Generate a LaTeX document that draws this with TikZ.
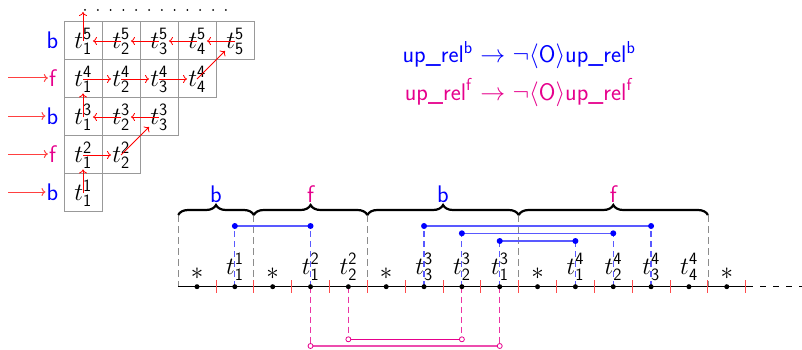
\documentclass[tikz,border=0pt]{standalone}
\usetikzlibrary{decorations.pathreplacing,arrows.meta}
\renewcommand{\familydefault}{\sfdefault}
\definecolor{bcol}{RGB}{0,0,255}
\definecolor{fcol}{RGB}{230,0,140}
\newcommand{\tl}[2]{$t^{\mathsf{#2}}_{\mathsf{#1}}$}
\begin{document}
\begin{tikzpicture}[x=1pt,y=-1pt,font=\fontsize{24}{28}\selectfont,
  gridline/.style={draw=black!40,line width=0.8pt},
  rarr/.style={red,line width=0.8pt,-{To[length=4pt,width=8pt]}},
  larr/.style={red!75,line width=1pt,-{To[length=4pt,width=8pt]}},
  tick/.style={red!70,line width=1pt},
  gdash/.style={black!45,line width=0.7pt,dash pattern=on 7pt off 4pt},
  bdash/.style={bcol!65,line width=1.2pt,dash pattern=on 6pt off 4pt},
  bline/.style={bcol!65,line width=1.3pt},
  fdash/.style={fcol!80,line width=1pt,dash pattern=on 6pt off 4pt},
  fline/.style={fcol!70,line width=1.2pt},
  bracestyle/.style={decorate,decoration={brace,amplitude=10pt},line width=2.2pt},
  lab/.style={inner sep=1pt}]
\useasboundingbox (0,0) rectangle (802,350);
% grid
\foreach \r in {1,...,5}{
  \foreach \c in {1,...,\r}{
    \draw[gridline] ({64+38*(\c-1)},{21+38*(5-\r)}) rectangle ++(38,38);
    \node[lab] (t\c\r) at ({83+38*(\c-1)},{41+38*(5-\r)}) {\tl{\c}{\r}};
  }
}
% dots above grid
\foreach \i in {0,...,11} \fill ({85+12.8*\i},10) circle (1);
\coordinate (top) at (83,12);
% grid arrows
\draw[rarr] (t11.center) -- (t12);
\draw[rarr] (t12.center) -- (t22);
\draw[rarr] (t22.center) -- (t33);
\draw[rarr] (t33.center) -- (t23);
\draw[rarr] (t23.center) -- (t13);
\draw[rarr] (t13.center) -- (t14);
\draw[rarr] (t14.center) -- (t24);
\draw[rarr] (t24.center) -- (t34);
\draw[rarr] (t34.center) -- (t44);
\draw[rarr] (t44.center) -- (t55);
\draw[rarr] (t55.center) -- (t45);
\draw[rarr] (t45.center) -- (t35);
\draw[rarr] (t35.center) -- (t25);
\draw[rarr] (t25.center) -- (t15);
\draw[rarr] (t15.center) -- (top);
% left labels
\node[bcol,lab] (L5) at (52.5,40) {b};
\node[fcol,lab] (L4) at (52.5,78) {f};
\node[bcol,lab] (L3) at (52.5,116) {b};
\node[fcol,lab] (L2) at (52.5,154) {f};
\node[bcol,lab] (L1) at (52.5,192) {b};
\coordinate (A4) at (8,78);
\coordinate (A3) at (8,116);
\coordinate (A2) at (8,154);
\coordinate (A1) at (8,192);
\draw[larr] (A4) -- (L4);
\draw[larr] (A3) -- (L3);
\draw[larr] (A2) -- (L2);
\draw[larr] (A1) -- (L1);
% formulas
\node[bcol,anchor=base] (fb) at (519,63) {up\_rel$^{\mathsf{b}}$ $\rightarrow$ $\neg\langle$O$\rangle$up\_rel$^{\mathsf{b}}$};
\node[fcol,anchor=base] (ff) at (519,100) {up\_rel$^{\mathsf{f}}$ $\rightarrow$ $\neg\langle$O$\rangle$up\_rel$^{\mathsf{f}}$};
% timeline
\def\sp{37.84}
\foreach \k in {0,...,14} \coordinate (d\k) at ({197+\sp*\k},286.7);
\coordinate (Ls) at (178.2,286.7);
\coordinate (Le) at (747,286.7);
\coordinate (Lr) at (802,286.7);
% braces boundaries
\coordinate (g0) at (178.2,215);
\coordinate (g1) at (253.8,215);
\coordinate (g2) at (367.4,215);
\coordinate (g3) at (518.7,215);
\coordinate (g4) at (707.9,215);
\foreach \g in {0,...,4} \draw[gdash] (g\g) -- (g\g |- Ls);
\draw[bracestyle] (g0) -- (g1);
\draw[bracestyle] (g1) -- (g2);
\draw[bracestyle] (g2) -- (g3);
\draw[bracestyle] (g3) -- (g4);
\node[bcol,lab] (br1) at (216,194) {b};
\node[fcol,lab] (br2) at (310.6,194) {f};
\node[bcol,lab] (br3) at (443,194) {b};
\node[fcol,lab] (br4) at (613.3,194) {f};
% blue links
\foreach \a/\h in {1/226,3/226,6/226,12/226,7/233.3,11/233.3,8/241,10/241}
  \coordinate (u\a) at ({197+\sp*\a},\h);
\foreach \a in {1,3,6,12,7,11,8,10} \draw[bdash] (d\a) -- (u\a);
\draw[bline] (u1) -- (u3);
\draw[bline] (u6) -- (u12);
\draw[bline] (u7) -- (u11);
\draw[bline] (u8) -- (u10);
\foreach \a in {1,3,6,12,7,11,8,10} \fill[bcol] (u\a) circle (3);
% magenta links
\foreach \a/\h in {3/346,8/346,4/339.3,7/339.3}
  \coordinate (m\a) at ({197+\sp*\a},\h);
\foreach \a in {3,8,4,7} \draw[fdash] (d\a) -- (m\a);
\draw[fline] (m3) -- (m8);
\draw[fcol,line width=0.8pt] (m4) -- (m7);
\foreach \a in {3,8,4,7} \draw[fcol,line width=0.8pt,fill=white] (m\a) circle (2.5);
% main line
\draw[line width=0.9pt] (Ls) -- (Le);
\draw[line width=0.9pt,dash pattern=on 6pt off 7pt] (Le) -- (Lr);
\foreach \k in {0,...,14} \draw[tick] ({216+\sp*\k},280) -- ++(0,13);
\foreach \k in {0,...,14} \fill (d\k) circle (2.5);
% labels on timeline
\foreach \k in {0,2,5,9,14} \node[lab,anchor=base] (s\k) at ({197+\sp*\k},279) {$*$};
\node[lab,anchor=base] (p1) at (d1 |- 0,274) {\tl{1}{1}};
\node[lab,anchor=base] (p3) at (d3 |- 0,274) {\tl{1}{2}};
\node[lab,anchor=base] (p4) at (d4 |- 0,274) {\tl{2}{2}};
\node[lab,anchor=base] (p6) at (d6 |- 0,274) {\tl{3}{3}};
\node[lab,anchor=base] (p7) at (d7 |- 0,274) {\tl{2}{3}};
\node[lab,anchor=base] (p8) at (d8 |- 0,274) {\tl{1}{3}};
\node[lab,anchor=base] (p10) at (d10 |- 0,274) {\tl{1}{4}};
\node[lab,anchor=base] (p11) at (d11 |- 0,274) {\tl{2}{4}};
\node[lab,anchor=base] (p12) at (d12 |- 0,274) {\tl{3}{4}};
\node[lab,anchor=base] (p13) at (d13 |- 0,274) {\tl{4}{4}};
\end{tikzpicture}
\end{document}
